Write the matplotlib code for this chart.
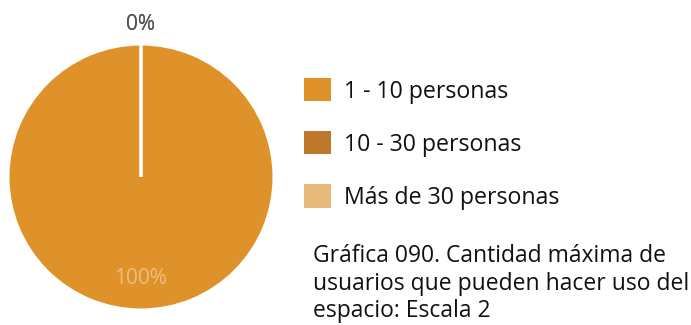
import numpy as np
import matplotlib
matplotlib.use("Agg")
import matplotlib.pyplot as plt
from matplotlib.patches import Patch

plt.rcParams['font.family'] = ['Open Sans', 'DejaVu Sans']

categories = ["1 - 10 personas", "10 - 30 personas", "Más de 30 personas"]
values = [100, 0, 0]
colors = ["#DE9229", "#BD782C", "#E6BA7B"]
caption = "Gráfica 090. Cantidad máxima de\nusuarios que pueden hacer uso del\nespacio: Escala 2"

W, H = 691, 325
fig = plt.figure(figsize=(W / 100, H / 100), dpi=100)

cx, cy, r = 141, 177, 133
ax = fig.add_axes([(cx - r) / W, (H - cy - r) / H, 2 * r / W, 2 * r / H])

wedges, _ = ax.pie(values, colors=colors, startangle=90, counterclock=False,
                   radius=1, wedgeprops=dict(edgecolor='white', linewidth=2.2))
ax.set_xlim(-1, 1)
ax.set_ylim(-1, 1)
ax.set_aspect('equal')
ax.axis('off')

# percentage labels placed at each wedge's mid-angle
total = float(sum(values))
angle = 90.0
for v in values:
    sweep = 360.0 * v / total
    mid = np.deg2rad(angle - sweep / 2)
    pct = 100.0 * v / total
    if pct >= 50:
        dist, col = 0.76, "#EDBE80"
    else:
        dist, col = 1.15, "#555555"
    ax.text(dist * np.cos(mid), dist * np.sin(mid), f"{pct:.0f}%",
            ha='center', va='center', fontsize=15, color=col)
    angle -= sweep

fs = 16.7
handles = [Patch(facecolor=c, edgecolor='none') for c in colors]
fig.legend(handles=handles, labels=categories, loc='upper left',
           bbox_to_anchor=(295 / W, 1 - 69 / H), frameon=False,
           borderaxespad=0, borderpad=0.4,
           fontsize=fs, handlelength=1.16, handleheight=1.16,
           handletextpad=0.56, labelspacing=1.19, labelcolor="#111111")

fig.text(313 / W, 1 - 244 / H, caption, ha='left', va='top',
         fontsize=16.5, color="#111111", linespacing=1.2)

fig.savefig("out.png", dpi=100)
